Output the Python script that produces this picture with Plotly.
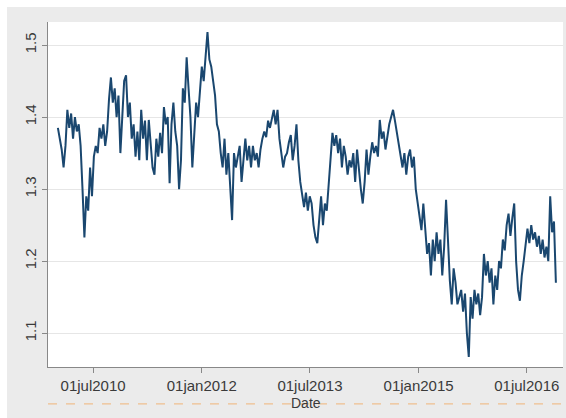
import plotly.graph_objects as go
import pandas as pd

start_date = "2010-01-04"
end_date = "2016-11-25"

values = [
    1.385, 1.37, 1.355, 1.33,
    1.36, 1.41, 1.385,
    1.405, 1.37, 1.40,
    1.38, 1.39, 1.36,
    1.30, 1.233,
    1.29, 1.27,
    1.33, 1.29,
    1.345, 1.36, 1.35, 1.385, 1.37,
    1.39, 1.36, 1.38,
    1.425, 1.455,
    1.42, 1.44, 1.40, 1.43,
    1.35, 1.40,
    1.45, 1.458,
    1.40, 1.42, 1.37, 1.39,
    1.345, 1.38, 1.34,
    1.41, 1.37, 1.395, 1.34,
    1.396, 1.36, 1.33,
    1.32,
    1.37, 1.345, 1.378, 1.35,
    1.414, 1.39, 1.40,
    1.308,
    1.39, 1.42, 1.38,
    1.36, 1.30, 1.34,
    1.44, 1.42, 1.483, 1.44,
    1.40, 1.33, 1.38,
    1.42, 1.40,
    1.44, 1.47, 1.45,
    1.49, 1.518, 1.48,
    1.47, 1.45,
    1.43, 1.39,
    1.38, 1.35, 1.33,
    1.37, 1.32, 1.35,
    1.295, 1.257,
    1.35, 1.33, 1.345,
    1.36, 1.31, 1.34,
    1.37, 1.34, 1.36,
    1.33, 1.36, 1.34, 1.35,
    1.33, 1.355,
    1.37, 1.38, 1.372, 1.395, 1.385,
    1.40, 1.41, 1.39, 1.41,
    1.37,
    1.35, 1.33, 1.345,
    1.35, 1.365, 1.375,
    1.34, 1.36,
    1.39, 1.34,
    1.31, 1.29, 1.275,
    1.295, 1.27, 1.29, 1.28,
    1.25, 1.233,
    1.225, 1.26,
    1.29, 1.25, 1.28, 1.27,
    1.31, 1.35, 1.378,
    1.36, 1.375, 1.35, 1.37,
    1.33, 1.36, 1.345,
    1.32, 1.34, 1.33,
    1.35,
    1.31, 1.355, 1.325,
    1.30, 1.28, 1.31,
    1.355, 1.32,
    1.345, 1.365, 1.35, 1.36,
    1.345, 1.396, 1.37,
    1.38, 1.355, 1.375,
    1.39, 1.40, 1.41,
    1.395,
    1.38, 1.36, 1.35,
    1.33, 1.35, 1.32,
    1.345, 1.355, 1.33, 1.345,
    1.30,
    1.28, 1.26, 1.243,
    1.28,
    1.24, 1.21, 1.225,
    1.18, 1.23, 1.20,
    1.24, 1.21, 1.23,
    1.18, 1.22,
    1.285, 1.23,
    1.173, 1.14,
    1.19,
    1.17, 1.14, 1.15,
    1.16, 1.13, 1.155,
    1.10, 1.067,
    1.15, 1.12,
    1.16, 1.14, 1.155,
    1.125, 1.15,
    1.21, 1.18, 1.20,
    1.17, 1.19,
    1.14,
    1.18, 1.16, 1.20, 1.19,
    1.23, 1.215,
    1.25, 1.266, 1.235, 1.26,
    1.28,
    1.20, 1.16, 1.145, 1.18,
    1.20, 1.22,
    1.245, 1.225, 1.25,
    1.23, 1.24,
    1.22, 1.235, 1.21,
    1.23, 1.205, 1.22, 1.20,
    1.29, 1.24,
    1.255, 1.17,
]

dates = pd.date_range(start_date, end_date, periods=len(values))

xtick_vals = ["2010-07-01", "2012-01-01", "2013-07-01", "2015-01-01", "2016-07-01"]
xtick_text = ["01jul2010", "01jan2012", "01jul2013", "01jan2015", "01jul2016"]
ytick_vals = [1.1, 1.2, 1.3, 1.4, 1.5]
ytick_text = ["1.1", "1.2", "1.3", "1.4", "1.5"]
x_title = "Date"

fig = go.Figure()
fig.add_trace(go.Scatter(
    x=dates, y=values, mode="lines",
    line=dict(color="#1a476f", width=2),
    showlegend=False,
))

fig.update_layout(
    width=566, height=418,
    margin=dict(l=48, r=3, t=22, b=51),
    paper_bgcolor="#ebebeb",
    plot_bgcolor="white",
    font=dict(family="Liberation Sans, Arial, sans-serif", size=15, color="#3a3a3a"),
    xaxis=dict(
        range=["2009-11-15", "2016-12-31"],
        tickvals=xtick_vals, ticktext=xtick_text,
        ticks="outside", ticklen=5, tickcolor="#888888",
        showline=True, linecolor="#888888", linewidth=1,
        showgrid=False, zeroline=False,
    ),
    yaxis=dict(
        range=[1.053, 1.532],
        tickvals=ytick_vals, ticktext=ytick_text,
        tickangle=-90,
        ticks="outside", ticklen=5, tickcolor="#888888",
        showline=True, linecolor="#888888", linewidth=1,
        showgrid=True, gridcolor="#e6e6e6", gridwidth=1,
        zeroline=False,
    ),
    shapes=[
        dict(type="rect", xref="paper", yref="paper",
             x0=-0.1, x1=-0.0796, y0=-0.2, y1=1.1,
             fillcolor="white", line=dict(width=0), layer="below"),
        dict(type="rect", xref="paper", yref="paper",
             x0=-0.1, x1=1.1, y0=1.0435, y1=1.1,
             fillcolor="white", line=dict(width=0), layer="below"),
        dict(type="line", xref="paper", yref="paper",
             x0=0, x1=1, y0=-0.107, y1=-0.107,
             line=dict(color="#f0c090", width=1.2, dash="dash")),
    ],
    annotations=[
        dict(text=x_title, xref="paper", yref="paper", x=0.5, y=-0.104,
             xanchor="center", yanchor="middle", showarrow=False,
             font=dict(size=14, color="#3a3a3a")),
    ],
)

fig.write_html("out.html")
